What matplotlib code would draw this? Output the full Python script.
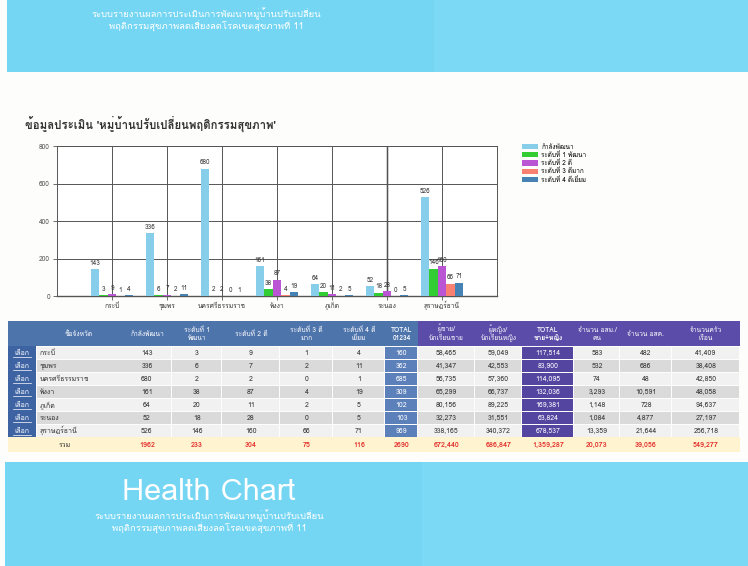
import matplotlib
matplotlib.use("Agg")
import matplotlib.pyplot as plt
from matplotlib.patches import Rectangle
from matplotlib import font_manager, ft2font
import numpy as np


def find_thai_families():
    found = []
    for f in font_manager.fontManager.ttflist:
        try:
            cmap = ft2font.FT2Font(f.fname).get_charmap()
        except Exception:
            continue
        if 0x0E01 in cmap and 0x0E2D in cmap and 0x0E48 in cmap:
            if f.name not in found:
                found.append(f.name)
    return found


thai = find_thai_families()
plt.rcParams['font.family'] = thai[:1] + ['Noto Sans', 'DejaVu Sans']

# ---------------- data ----------------
provinces = ["กระบี่", "ชุมพร", "นครศรีธรรมราช", "พังงา", "ภูเก็ต", "ระนอง", "สุราษฎร์ธานี"]
series_names = ["กำลังพัฒนา", "ระดับที่ 1 พัฒนา", "ระดับที่ 2 ดี", "ระดับที่ 3 ดีมาก", "ระดับที่ 4 ดีเยี่ยม"]
developing = [143, 336, 680, 161, 64, 52, 526]
level1 = [3, 6, 2, 38, 20, 18, 146]
level2 = [9, 7, 2, 87, 11, 28, 160]
level3 = [1, 2, 0, 4, 2, 0, 66]
level4 = [4, 11, 1, 19, 5, 5, 71]
male = [58465, 41347, 56735, 65299, 80156, 32273, 338165]
female = [59049, 42553, 57360, 66737, 89225, 31551, 340372]
vhv = [583, 532, 74, 3293, 1148, 1084, 13359]
vfv = [482, 686, 48, 10591, 728, 4877, 21644]
households = [41409, 38408, 42850, 48058, 94637, 27197, 256718]
y_ticks = [0, 200, 400, 600, 800]

header_labels = ["", "ชื่อจังหวัด", "กำลังพัฒนา", "ระดับที่ 1\nพัฒนา", "ระดับที่ 2 ดี",
                 "ระดับที่ 3 ดี\nมาก", "ระดับที่ 4 ดี\nเยี่ยม", "TOTAL\n01234",
                 "ผู้ชาย/\nนักเรียนชาย", "ผู้หญิง/\nนักเรียนหญิง", "TOTAL\nชาย+หญิง",
                 "จำนวน อสม./\nคน", "จำนวน อสค.", "จำนวนครัว\nเรือน"]
title_text = "ข้อมูลประเมิน 'หมู่บ้านปรับเปลี่ยนพฤติกรรมสุขภาพ'"
banner_line1 = "ระบบรายงานผลการประเมินการพัฒนาหมู่บ้านปรับเปลี่ยน"
banner_line2 = "พฤติกรรมสุขภาพลดเสี่ยงลดโรคเขตสุขภาพที่ 11"

series = [developing, level1, level2, level3, level4]
colors = ["#87CEEB", "#32CD32", "#BA55D3", "#FA8072", "#4682B4"]

W, H = 748, 566
fig = plt.figure(figsize=(W / 100, H / 100), dpi=100)
fig.patch.set_facecolor("#FDFDFB")

bg = fig.add_axes([0, 0, 1, 1])
bg.set_xlim(0, W)
bg.set_ylim(H, 0)
bg.axis("off")

BL = "baseline"

banner_dark = "#74D6F3"
banner_light = "#7CD9F5"
bg.add_patch(Rectangle((7, 0), 427, 72, color=banner_dark, lw=0))
bg.add_patch(Rectangle((434, 0), W - 434, 72, color=banner_light, lw=0))
bg.text(206, 17, banner_line1, ha="center", va=BL, color="white", fontsize=6.8)
bg.text(206, 30, banner_line2, ha="center", va=BL, color="white", fontsize=6.8)

bg.add_patch(Rectangle((5, 462), 417, H - 462, color=banner_dark, lw=0))
bg.add_patch(Rectangle((422, 462), W - 422, H - 462, color=banner_light, lw=0))
bg.text(209, 500, "Health Chart", ha="center", va=BL, color="white", fontsize=22)
bg.text(209, 519, banner_line1, ha="center", va=BL, color="white", fontsize=6.8)
bg.text(209, 532, banner_line2, ha="center", va=BL, color="white", fontsize=6.8)

bg.text(25, 129, title_text, ha="left", va=BL, color="#333333", fontsize=8.2, fontweight="bold")

# ---------------- bar chart ----------------
ax = fig.add_axes([57 / W, 1 - 296 / H, 440 / W, 150 / H])
ax.set_facecolor("white")
x = np.arange(1, len(provinces) + 1)
bw = 0.155
handles = []
for i, (vals, c, name) in enumerate(zip(series, colors, series_names)):
    b = ax.bar(x + (i - 2) * bw, vals, bw, color=c, label=name, zorder=3)
    handles.append(b)
    for xi, v in zip(x + (i - 2) * bw, vals):
        ax.text(xi, v + 12, str(v), ha="center", va="bottom", fontsize=4.6, color="#333333", zorder=4)
ax.set_xlim(0, 8)
ax.set_ylim(0, 800)
ax.set_yticks(y_ticks)
ax.set_yticklabels([str(t) for t in y_ticks], fontsize=4.8, color="#555555")
ax.set_xticks(x)
ax.set_xticklabels(provinces, fontsize=4.8, color="#333333")
for lab in ax.get_xticklabels():
    lab.set_verticalalignment(BL)
ax.tick_params(axis="both", length=3, width=0.6, color="#555555")
ax.tick_params(axis="y", pad=2)
ax.tick_params(axis="x", pad=5.5)
ax.grid(True, which="major", color="#555555", lw=0.7, zorder=0)
ax.axvline(6, color="#111111", lw=1.0, zorder=1)
for s in ax.spines.values():
    s.set_color("#555555")
    s.set_linewidth(0.7)
ax.spines["bottom"].set_linewidth(1.0)

fig.legend(handles=handles, labels=series_names, loc="upper left",
           bbox_to_anchor=(519 / W, 1 - 141 / H), frameon=False, fontsize=4.6,
           handlelength=2.6, handleheight=0.9, labelspacing=0.2, handletextpad=0.5,
           borderaxespad=0)

# ---------------- table ----------------
col_edges = [8, 36, 122, 172, 222, 280, 333, 385, 418, 475, 522, 574, 620, 672, 740]
hdr_top, hdr_bot = 321, 346
row_h = 13
sum_h = 15

hdr_blue = "#4E74AC"
hdr_purple = "#5A4CA8"
sel_blue = "#3D63A3"
tot_blue = "#5B80BA"
tot_purple = "#5345A0"
light = "#F1F1F1"
dark = "#DADADA"
sum_bg = "#FFF4CF"
red = "#E22B2B"

for j in range(len(col_edges) - 1):
    x0, x1 = col_edges[j], col_edges[j + 1]
    c = hdr_blue if j <= 7 else hdr_purple
    bg.add_patch(Rectangle((x0, hdr_top), x1 - x0, hdr_bot - hdr_top, color=c, lw=0))
    lines = header_labels[j].split("\n")
    n = len(lines)
    for k, line in enumerate(lines):
        yy = (hdr_top + hdr_bot) / 2 + (k - (n - 1) / 2) * 8.5 + 2.5
        bg.text((x0 + x1) / 2, yy, line, ha="center", va=BL,
                color="white", fontsize=4.8,
                fontweight="bold" if header_labels[j].startswith("TOTAL") else "normal")

tot01234 = [a + b + c + d + e for a, b, c, d, e in zip(*series)]
tot_mf = [m + f for m, f in zip(male, female)]
columns = [developing, level1, level2, level3, level4, tot01234, male, female, tot_mf, vhv, vfv, households]

for r, prov in enumerate(provinces):
    y0 = hdr_bot + r * row_h
    yb = y0 + row_h / 2 + 2.6
    stripe = light if r % 2 == 0 else dark
    bg.add_patch(Rectangle((col_edges[0], y0), col_edges[1] - col_edges[0], row_h, color=sel_blue, lw=0))
    bg.text((col_edges[0] + col_edges[1]) / 2, yb, "เลือก", ha="center", va=BL,
            color="white", fontsize=5)
    bg.plot([col_edges[0] + 5, col_edges[1] - 5], [yb + 1.5, yb + 1.5], color="white", lw=0.5)
    bg.add_patch(Rectangle((col_edges[1] + 1, y0 + 0.5), col_edges[2] - col_edges[1] - 1, row_h - 1, color=stripe, lw=0))
    bg.text(col_edges[1] + 4, yb, prov, ha="left", va=BL, color="#333333", fontsize=5)
    for j, col in enumerate(columns):
        x0, x1 = col_edges[j + 2], col_edges[j + 3]
        if j == 5:
            c, tc = tot_blue, "white"
        elif j == 8:
            c, tc = tot_purple, "white"
        else:
            c, tc = stripe, "#333333"
        bg.add_patch(Rectangle((x0 + 0.5, y0 + 0.5), x1 - x0 - 1, row_h - 1, color=c, lw=0))
        bg.text((x0 + x1) / 2, yb, f"{col[r]:,}", ha="center", va=BL, color=tc, fontsize=5)

ys = hdr_bot + len(provinces) * row_h
yb = ys + sum_h / 2 + 2.7
bg.add_patch(Rectangle((col_edges[0], ys), col_edges[-1] - col_edges[0], sum_h, color=sum_bg, lw=0))
bg.text(65, yb, "รวม", ha="center", va=BL, color="#333333", fontsize=5)
for j, col in enumerate(columns):
    x0, x1 = col_edges[j + 2], col_edges[j + 3]
    label = str(sum(col)) if j <= 5 else f"{sum(col):,}"
    bg.text((x0 + x1) / 2, yb, label, ha="center", va=BL,
            color=red, fontsize=5.2, fontweight="bold")

fig.savefig("out.png", dpi=100, facecolor=fig.get_facecolor())
